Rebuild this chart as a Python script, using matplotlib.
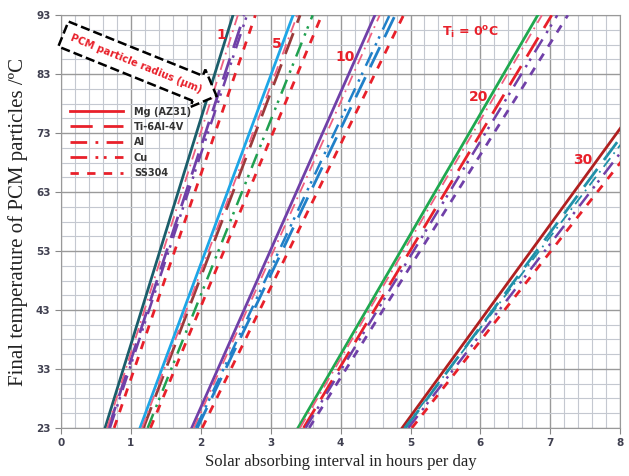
import numpy as np
import matplotlib.pyplot as plt
from matplotlib.lines import Line2D
from matplotlib.ticker import MultipleLocator

# PCM particle radii (um) and materials
radii = ['1', '5', '10', '20', '30']
materials = ['Mg (AZ31)', 'Ti-6Al-4V', 'Al', 'Cu', 'SS304']

# hours needed to reach 23 C and 93 C, order: Mg, Ti, Al, Cu, SS304
t_at_23 = {
    '1':  [0.63, 0.68, 0.66, 0.70, 0.76],
    '5':  [1.13, 1.18, 1.16, 1.24, 1.28],
    '10': [1.87, 1.95, 1.90, 1.93, 2.02],
    '20': [3.39, 3.47, 3.42, 3.50, 3.55],
    '30': [4.88, 4.93, 4.91, 4.97, 5.02],
}
t_at_93 = {
    '1':  [2.46, 2.62, 2.53, 2.66, 2.78],
    '5':  [3.32, 3.42, 3.38, 3.60, 3.73],
    '10': [4.49, 4.78, 4.56, 4.70, 4.90],
    '20': [6.82, 7.02, 6.88, 7.10, 7.25],
    '30': [9.18, 9.30, 9.42, 9.52, 9.66],
}

red = '#E8202A'
pink = '#F06080'
purple = '#7040A8'
colors = {
    '1':  ['#1B5E6B', purple, pink, purple, red],
    '5':  ['#1EA6E6', '#9B3A3A', pink, '#20A050', red],
    '10': [purple, '#2080C8', pink, '#2080C8', red],
    '20': ['#20A850', red, pink, purple, purple],
    '30': ['#B02020', '#2090A8', '#2090A8', purple, red],
}
styles = ['-', (0, (8, 4)), (0, (6, 3, 1, 3)), (0, (6, 3, 1, 2, 1, 3)), (0, (3, 3))]
widths = [2.0, 2.0, 1.3, 1.8, 2.0]

label_pos = {'1': (2.30, 89.6), '5': (3.09, 88.1), '10': (4.06, 85.9),
             '20': (5.97, 79.1), '30': (7.47, 68.4)}

fig = plt.figure(figsize=(6.29, 4.76), dpi=100)
ax = fig.add_axes([0.097, 0.101, 0.889, 0.867])

for r in radii:
    for i in range(5):
        ax.plot([t_at_23[r][i], t_at_93[r][i]], [23, 93], color=colors[r][i],
                linestyle=styles[i], linewidth=widths[i], zorder=3)
    lx, ly = label_pos[r]
    ax.text(lx, ly, r, color=red, fontsize=10, fontweight='bold',
            ha='center', va='center', zorder=4)

ax.text(5.85, 90.0, r'T$_\mathregular{i}$ = 0$^\mathregular{o}$C', color=red,
        fontsize=9, fontweight='bold', ha='center', va='center')

# big dashed arrow with text
ax.text(1.08, 84.8, 'PCM particle radius (\u00b5m)', color=red, fontsize=7.2,
        fontweight='bold', rotation=-22, ha='center', va='center', zorder=5,
        bbox=dict(boxstyle='rarrow,pad=0.85', fc='white', ec='black',
                  ls='--', lw=1.8))

ax.set_xlim(0, 8)
ax.set_ylim(23, 93)
ax.xaxis.set_major_locator(MultipleLocator(1))
ax.xaxis.set_minor_locator(MultipleLocator(0.2))
ax.set_yticks(np.arange(23, 94, 10))
ax.set_yticks(np.arange(23, 94, 2.5), minor=True)
ax.grid(which='major', color='#9a9a9a', linewidth=1.0, zorder=0)
ax.grid(which='minor', color='#c4c8d0', linewidth=0.8, zorder=0)
ax.set_axisbelow(True)
ax.tick_params(which='major', direction='out', length=4, color='#888888',
               labelsize=7.5, labelcolor='#404050')
ax.tick_params(which='minor', length=0)
for lab in ax.get_xticklabels() + ax.get_yticklabels():
    lab.set_fontweight('bold')
for s in ax.spines.values():
    s.set_color('#999999')

ax.set_xlabel('Solar absorbing interval in hours per day',
              family='Liberation Serif', fontsize=12, color='#222222')
ax.set_ylabel('Final temperature of PCM particles /\u00baC',
              family='Liberation Serif', fontsize=15, color='#222222',
              labelpad=6)

handles = [Line2D([], [], color=red, linestyle=styles[i], linewidth=2.0)
           for i in range(5)]
leg = ax.legend(handles, materials, loc='upper left',
                bbox_to_anchor=(0.0, 0.80), frameon=False, handlelength=5.5,
                handletextpad=1.1, labelspacing=0.55,
                prop={'size': 7, 'weight': 'bold'})
for t in leg.get_texts():
    t.set_color('#333333')

plt.savefig('out.png', dpi=100)
